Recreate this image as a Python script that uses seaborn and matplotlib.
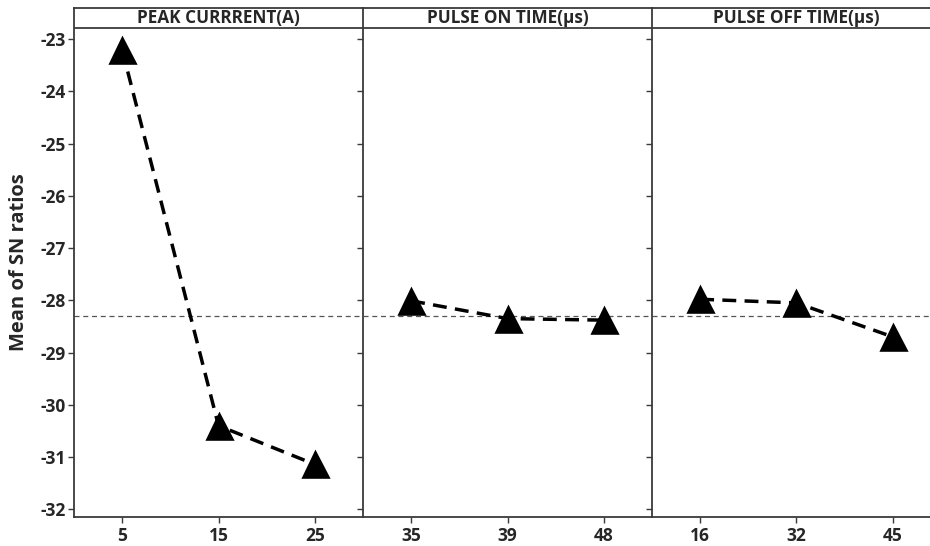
import pandas as pd
import matplotlib
matplotlib.use("Agg")
import matplotlib.pyplot as plt
import seaborn as sns

# ---------------------------
# Data
# ---------------------------
factors = ["PEAK CURRRENT(A)", "PULSE ON TIME(µs)", "PULSE OFF TIME(µs)"]
peak_levels = ["5", "15", "25"]
peak_sn = [-23.21, -30.40, -31.14]
on_levels = ["35", "39", "48"]
on_sn = [-28.01, -28.35, -28.38]
off_levels = ["16", "32", "45"]
off_sn = [-27.98, -28.05, -28.70]
grand_mean = -28.30
y_ticks = [-23, -24, -25, -26, -27, -28, -29, -30, -31, -32]

panels = [(peak_levels, peak_sn), (on_levels, on_sn), (off_levels, off_sn)]

sns.set_theme(style="white")
plt.rcParams["font.family"] = ["Open Sans", "DejaVu Sans"]
plt.rcParams["axes.unicode_minus"] = False

fig, axes = plt.subplots(1, 3, figsize=(9.3, 5.46), dpi=100, sharey=True)
fig.subplots_adjust(left=0.0796, right=1.0118, bottom=0.0531, top=0.9853, wspace=0)

y_top, y_head, y_bot = -22.407, -22.79, -32.147
edge = "#3a3a3a"

for ax, name, (levels, vals) in zip(axes, factors, panels):
    df = pd.DataFrame({"level": levels, "sn": vals})
    sns.pointplot(data=df, x="level", y="sn", order=levels, ax=ax,
                  color="black", markers="^", linestyles="--",
                  markersize=18, linewidth=2.5, errorbar=None)
    for ln in ax.lines:
        ln.set_dashes([4, 2.4])
    ax.axhline(grand_mean, color="#555555", lw=0.9, ls=(0, (4, 3)), zorder=1)
    ax.axhline(y_head, color=edge, lw=1.3)
    ax.text(1, (y_head + y_top) / 2, name, ha="center", va="center",
            fontsize=12.3, fontweight="bold")
    ax.set_xlim(-0.5, 2.5)
    ax.set_ylim(y_bot, y_top)
    ax.set_xlabel("")
    ax.set_ylabel("")
    for s in ["left", "bottom", "top"]:
        ax.spines[s].set_color(edge)
        ax.spines[s].set_linewidth(1.3)
    ax.spines["right"].set_visible(False)
    ax.tick_params(axis="both", direction="out", length=4, width=1, color=edge,
                   labelsize=12.5)
    ax.tick_params(axis="y", left=True, pad=2)
    ax.tick_params(axis="x", bottom=True)
    for lab in ax.get_xticklabels():
        lab.set_fontweight("bold")

axes[0].set_yticks(y_ticks)
for lab in axes[0].get_yticklabels():
    lab.set_fontweight("bold")
axes[0].set_ylabel("Mean of SN ratios", fontsize=14.5, fontweight="bold", labelpad=8)

plt.savefig("out.png", dpi=100)
